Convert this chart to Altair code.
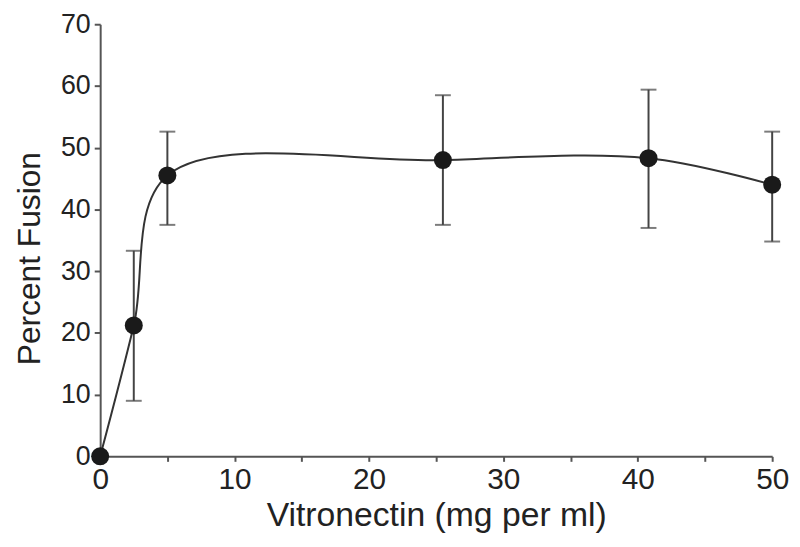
import altair as alt
import pandas as pd

conc = [0, 2.5, 5, 25.5, 40.8, 50]
fusion = [0, 21.2, 45.5, 48.0, 48.3, 44.0]
err_low = [None, 9.0, 37.5, 37.5, 37.0, 34.8]
err_high = [None, 33.3, 52.6, 58.5, 59.4, 52.6]

df = pd.DataFrame({"conc": conc, "fusion": fusion, "lo": err_low, "hi": err_high})
df_err = df.dropna()

FONT = "Liberation Sans"
x_scale = alt.Scale(domain=[0, 50], nice=False, zero=False)
y_scale = alt.Scale(domain=[0, 70], nice=False)

x_axis = alt.Axis(
    title="Vitronectin (mg per ml)",
    values=[0, 5, 10, 15, 20, 25, 30, 35, 40, 45, 50],
    labelExpr="datum.value % 10 == 0 ? datum.label : ''",
    grid=False, tickSize=5, labelFontSize=30, titleFontSize=34,
    labelPadding=3, titlePadding=5, labelFlush=False,
)
y_axis = alt.Axis(
    title="Percent Fusion",
    values=[0, 10, 20, 30, 40, 50, 60, 70],
    grid=False, tickSize=6, labelFontSize=27, titleFontSize=32,
    labelPadding=4, titlePadding=14, titleY=236,
)

base = alt.Chart(df)
line = base.mark_line(interpolate="catmull-rom", color="#333333", strokeWidth=2).encode(
    x=alt.X("conc:Q", scale=x_scale, axis=x_axis),
    y=alt.Y("fusion:Q", scale=y_scale, axis=y_axis),
)
errbase = alt.Chart(df_err)
rules = errbase.mark_rule(color="#444444", strokeWidth=2).encode(
    x="conc:Q", y="lo:Q", y2="hi:Q"
)
cap_lo = errbase.mark_tick(color="#444444", thickness=2, size=16, orient="horizontal").encode(
    x="conc:Q", y="lo:Q"
)
cap_hi = errbase.mark_tick(color="#444444", thickness=2, size=16, orient="horizontal").encode(
    x="conc:Q", y="hi:Q"
)
points = base.mark_circle(size=330, color="#1a1a1a", opacity=1).encode(
    x="conc:Q", y="fusion:Q"
)

chart = alt.layer(rules, cap_lo, cap_hi, line, points).properties(
    width=678, height=436,
    autosize=alt.AutoSizeParams(type="none"),
    padding={"left": 93, "top": 14, "right": 20, "bottom": 81},
).configure_view(stroke=None).configure_axis(
    domainColor="#555555", domainWidth=2, tickColor="#555555", tickWidth=2,
    labelFont=FONT, titleFont=FONT, labelColor="#222222", titleColor="#222222",
    titleFontWeight="normal",
)

chart.save("out.html", embed_options={"renderer": "svg", "actions": False})
